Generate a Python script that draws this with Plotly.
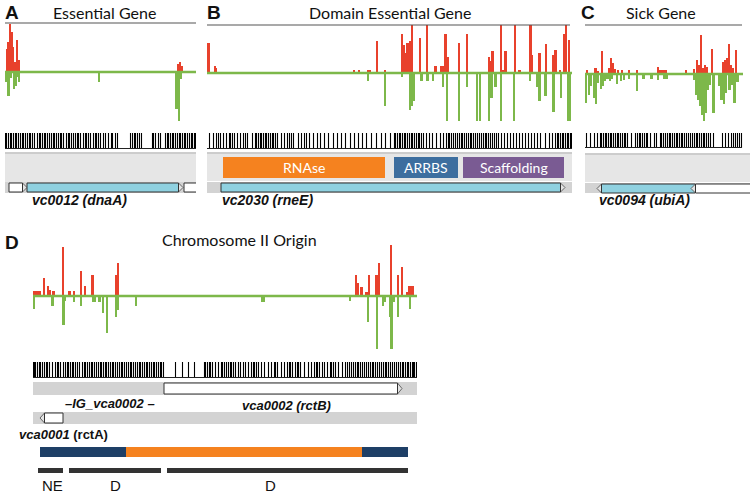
import math
import plotly.graph_objects as go

W, H = 750, 494

# ---------------- DATA ----------------
# Panel A  (essential gene dnaA)  positions in genome units, values = read counts (scaled)
A_red_pos = [7, 8.7, 10.2, 11.7, 13.5, 15.5, 17.5, 19.2, 178.5, 180.5, 182]
A_red_val = [23, 30, 48, 40, 25, 10, 32, 12, 8, 10, 6]
A_green_pos = [6.7, 8.7, 11, 14, 16, 17.7, 19.3, 99, 176.7, 179.3, 181.5]
A_green_val = [-10, -24, -6, -17, -14, -5, -10, -10, -37, -49, -7]
A_ta = [5, 6, 8, 10, 11, 13, 15, 16, 18, 20, 22, 23, 25, 27, 29, 30, 32, 34, 37, 39, 40, 42,
        44, 45, 47, 49, 51, 53, 54, 56, 58, 60, 61, 63, 66, 68, 69, 71, 73, 75, 77, 78, 80, 83,
        85, 86, 88, 90, 93, 95, 96, 98, 100, 103, 105, 108, 111, 112, 115, 117, 130, 132, 134,
        135, 137, 139, 141, 152, 153, 155, 158, 160, 165, 167, 168, 170, 172, 173, 175, 177, 179,
        180, 182, 184, 185, 187, 189, 191, 192, 194, 195]
A_gene_names = ["vc0011", "vc0012", "vc0013"]
A_gene_start = [9, 27, 184]
A_gene_end = [27, 183, 215]
A_gene_strand = ["+", "+", "+"]

# Panel B  (domain essential gene rneE)
B_red_pos = [207.3, 208.7, 215.3, 216.3, 354, 359.5, 368, 370.5, 377, 385.5,
             402, 404, 406, 407.7, 410.5, 412, 420, 427.3, 435.7, 441.5, 443.3, 445.7, 448,
             459.3, 467, 489, 491, 492.7, 501, 503.7, 505.8, 515, 519.7, 530.7, 532.3, 539.7,
             546, 553.7, 555.7, 560, 564.5, 566.5, 569]
B_red_val = [18, 30, 7, 5, 3, 3, 3, 3, 32, 3,
             39, 28, 20, 30, 32, 48, 35, 48, 7, 7, 7, 39, 16,
             30, 39, 16, 12, 22, 48, 3, 22, 48, 3, 48, 18, 20,
             29, 18, 23, 3, 39, 48, 33]
B_green_pos = [368.5, 385.5, 402, 410, 412, 414, 421.7, 427.7, 433, 443, 447.3, 459.3, 467.3,
               477, 480, 489.3, 491.7, 495.7, 501, 514, 530.5, 537.7, 539.7, 545.7, 553.7, 561,
               568.3, 569.7]
B_green_val = [-8, -33, -4, -37, -33, -28, -8, -8, -8, -14, -48, -48, -14,
               -48, -48, -48, -25, -14, -48, -48, -8, -14, -28, -23, -39, -25,
               -48, -48]
B_ta = [209, 213, 216, 218, 220, 223, 226, 229, 230, 232, 234, 237, 240, 243, 245, 247, 252,
        255, 256, 258, 260, 261, 263, 265, 266, 268, 270, 272, 273, 275, 277, 281, 284, 287, 289,
        291, 293, 298, 301, 304, 306, 309, 313, 317, 320, 324, 328, 333, 337, 341, 345, 350, 354,
        358, 362, 366, 371, 376, 381, 385, 390, 394, 395, 397, 399, 400, 402, 404, 405, 407, 409,
        411, 412, 414, 416, 418, 419, 421, 423, 426, 429, 432, 436, 440, 443, 446, 448, 449, 451,
        453, 455, 457, 459, 461, 462, 464, 466, 468, 470, 471, 473, 475, 477, 479, 481, 483, 485,
        486, 488, 490, 492, 494, 496, 498, 501, 504, 507, 510, 513, 516, 519, 522, 525, 528, 531,
        534, 537, 540, 545, 549, 552, 555, 557, 558, 560, 562, 563, 565, 567, 568, 570, 571]
B_gene_names = ["vc2030"]
B_gene_start = [221]
B_gene_end = [565]
B_gene_strand = ["+"]
B_domain_names = ["RNAse", "ARRBS", "Scaffolding"]
B_domain_start = [223, 394, 463]
B_domain_end = [385, 458, 564]

# Panel C  (sick gene ubiA)
C_red_pos = [587.3, 595.7, 597.7, 602.5, 609, 611, 613, 615, 618, 622, 629, 637, 658, 660, 662,
             664, 666, 686.5, 694, 697, 699, 701, 703, 705, 707, 712, 723, 725, 727, 729, 731,
             733, 736]
C_red_val = [4, 6, 3, 23, 6, 16, 11, 5, 4, 4, 4, 4, 7, 4, 4,
             4, 4, 4, 5, 14, 9, 39, 6, 9, 7, 25, 12, 14, 16, 30, 9,
             6, 24]
C_green_pos = [586, 589, 591, 594.3, 596.3, 598.3, 601, 603, 605, 607.7, 610.3, 612.3, 617, 621,
               624, 629, 637, 643.7, 651.7, 658.3, 664.3, 666.7, 694, 696, 698, 700, 702, 704,
               706, 708, 710, 713.7, 719, 721.7, 724.3, 726.3, 729.7, 731.7, 734.7, 737.7]
C_green_val = [-29, -21, -12, -24, -30, -9, -15, -12, -7, -5, -7, -5, -10, -7,
               -6, -5, -17, -5, -5, -6, -5, -5, -6, -21, -26, -32, -41, -47,
               -39, -16, -11, -39, -12, -26, -30, -19, -16, -11, -29, -8]
C_ta = [586, 590, 594, 597, 600, 601, 603, 605, 606, 608, 610, 611, 613, 615, 617, 618, 620,
        622, 624, 625, 627, 631, 635, 637, 639, 640, 642, 644, 646, 647, 650, 654, 656, 660, 661,
        663, 665, 667, 669, 670, 672, 674, 676, 677, 679, 681, 682, 684, 686, 688, 690, 692, 694,
        696, 697, 699, 701, 703, 704, 706, 708, 710, 713, 722, 725, 728, 731, 733, 735, 737, 739,
        741]
C_gene_names = ["vc0094", "vc0095"]
C_gene_start = [597, 691]
C_gene_end = [695, 790]
C_gene_strand = ["-", "-"]

# Panel D  (chromosome II origin)
D_red_pos = [34.5, 36.5, 38.5, 40.3, 44, 48.3, 50, 53.7, 63.3, 69.7, 74, 81.3, 85.3, 92.7, 116,
             118, 356, 358, 361.7, 366.7, 369, 376.7, 379, 391, 398.3, 402, 407.3, 409.5, 411.5,
             413.5]
D_red_val = [5, 5, 5, 5, 18, 10, 6, 5, 49, 5, 5, 25, 10, 21, 21,
             33, 21, 13, 9, 4, 21, 21, 33, 51, 21, 29, 4, 10, 10,
             10]
D_green_pos = [34.3, 52.7, 63.7, 65, 74.3, 81.3, 93, 95.5, 99.7, 103, 107.3, 116.3, 118, 136.3,
               262, 264.5, 350, 368.3, 377, 383, 385.3, 390.3, 391.7, 394, 398.3, 410]
D_green_val = [-13, -10, -29, -5, -6, -10, -6, -6, -6, -17, -37, -21, -14, -10,
               -6, -6, -5, -26, -53, -10, -6, -21, -53, -6, -21, -13]
D_ta = [33, 34, 35, 37, 39, 40, 42, 44, 46, 47, 49, 52, 55, 57, 58, 60, 63, 65, 67, 68, 70, 72,
        73, 75, 77, 79, 82, 84, 85, 87, 89, 91, 92, 94, 96, 98, 100, 101, 103, 105, 106, 108, 110,
        112, 113, 115, 117, 119, 121, 122, 124, 126, 128, 130, 131, 133, 135, 137, 139, 140, 142,
        144, 146, 147, 149, 151, 153, 154, 156, 158, 160, 161, 163, 175, 182, 188, 194, 204, 205,
        207, 209, 210, 212, 215, 218, 221, 222, 224, 226, 228, 230, 231, 233, 235, 238, 240, 243,
        245, 248, 251, 253, 254, 256, 258, 261, 264, 268, 271, 274, 275, 277, 281, 284, 287, 289,
        290, 292, 295, 297, 298, 300, 304, 308, 311, 314, 316, 317, 319, 322, 324, 327, 330, 331,
        333, 335, 338, 342, 345, 347, 349, 351, 353, 355, 357, 358, 360, 362, 364, 366, 368, 370,
        372, 373, 375, 377, 379, 381, 383, 385, 386, 388, 390, 392, 394, 396, 398, 400, 402, 403,
        405, 407, 408, 410, 412, 413, 414, 416]
D_gene1_names = ["vca0002"]
D_gene1_start = [164]
D_gene1_end = [402]
D_gene1_strand = ["+"]
D_gene2_names = ["vca0001"]
D_gene2_start = [40]
D_gene2_end = [63]
D_gene2_strand = ["-"]
D_region_kind = ["flank", "orf", "flank"]
D_region_start = [40, 126, 362]
D_region_end = [126, 362, 408]
D_ess_labels = ["NE", "D", "D"]
D_ess_start = [38, 69, 167]
D_ess_end = [63, 161, 408]
D_ess_label_at = [52, 115, 270]

HIGHLIGHT = {"vc0012", "vc2030", "vc0094"}

# ---------------- STYLE ----------------
RED = "#E8412C"
GREEN = "#7DB84A"
CYAN = "#8FD1E0"
BAND = "#D3D3D3"
LIGHT = "#E6E6E6"
DOMAIN_COL = {"RNAse": "#F5821F", "ARRBS": "#3D6E9F", "Scaffolding": "#7A5B93"}
REGION_COL = {"flank": "#1E3F66", "orf": "#F5821F"}
TITLE_FONT = "Lato, Open Sans, sans-serif"
ARIAL = "Liberation Sans, Arial, sans-serif"

fig = go.Figure()
shapes = []
annotations = []

panels = {
    # key: (xaxis, yaxis, x0px, x1px, ytop_px, ybot_px, baseline_px)
    "A": ("x", "y", 5, 196, 18, 206, 72),
    "B": ("x2", "y2", 207, 572, 18, 206, 73),
    "C": ("x3", "y3", 585, 750, 18, 206, 74),
    "D": ("x4", "y4", 33, 417, 240, 494, 296),
}


def ylev(p, px):
    return panels[p][6] - px


def add_bars(p, rpos, rval, gpos, gval, line_x0, line_x1):
    xa, ya = panels[p][0], panels[p][1]
    fig.add_trace(go.Bar(x=rpos, y=rval, width=[1.9] * len(rpos), marker=dict(color=RED, line=dict(width=0)),
                         xaxis=xa, yaxis=ya, showlegend=False, hoverinfo="skip"))
    fig.add_trace(go.Bar(x=gpos, y=gval, width=[1.9] * len(gpos), marker=dict(color=GREEN, line=dict(width=0)),
                         xaxis=xa, yaxis=ya, showlegend=False, hoverinfo="skip"))
    fig.add_trace(go.Scatter(x=[line_x0, line_x1], y=[0, 0], mode="lines", line=dict(color=GREEN, width=2.6),
                             xaxis=xa, yaxis=ya, showlegend=False, hoverinfo="skip"))


def add_topline(p, x0, x1, px):
    xa, ya = panels[p][0], panels[p][1]
    y = ylev(p, px)
    fig.add_trace(go.Scatter(x=[x0, x1], y=[y, y], mode="lines", line=dict(color="#555", width=1.2),
                             xaxis=xa, yaxis=ya, showlegend=False, hoverinfo="skip"))


def add_ticks(p, sites, x0, x1, top_px, bot_px):
    xa, ya = panels[p][0], panels[p][1]
    yt, yb = ylev(p, top_px), ylev(p, bot_px)
    X, Y = [], []
    for s in sites:
        sx = math.floor(s) + 0.5  # snap to pixel centre for crisp 1px ticks
        X += [sx, sx, None]
        Y += [yt, yb, None]
    fig.add_trace(go.Scatter(x=X, y=Y, mode="lines", line=dict(color="black", width=1.1),
                             xaxis=xa, yaxis=ya, showlegend=False, hoverinfo="skip"))
    fig.add_trace(go.Scatter(x=[x0, x1], y=[yb + 0.5, yb + 0.5], mode="lines", line=dict(color="#222", width=1),
                             xaxis=xa, yaxis=ya, showlegend=False, hoverinfo="skip"))


def rect(p, x0, x1, top_px, bot_px, fill, line=None, lw=0, layer="below"):
    xa, ya = panels[p][0], panels[p][1]
    shapes.append(dict(type="rect", xref=xa, yref=ya, x0=x0, x1=x1,
                       y0=ylev(p, bot_px), y1=ylev(p, top_px), fillcolor=fill,
                       line=dict(color=line or fill, width=lw), layer=layer))


def hline(p, x0, x1, px, color, width):
    xa, ya = panels[p][0], panels[p][1]
    shapes.append(dict(type="line", xref=xa, yref=ya, x0=x0, x1=x1, y0=ylev(p, px), y1=ylev(p, px),
                       line=dict(color=color, width=width), layer="below"))


def add_genes(p, names, starts, ends, strands, top_px, bot_px, tip=4.5):
    xa, ya = panels[p][0], panels[p][1]
    yt, yb = ylev(p, top_px), ylev(p, bot_px)
    ym = (yt + yb) / 2
    for n, s, e, st in zip(names, starts, ends, strands):
        fill = CYAN if n in HIGHLIGHT else "white"
        if st == "+":
            bx0, bx1 = s, e - tip
            tx, ty = [e - tip, e, e - tip, e - tip], [yt, ym, yb, yt]
        else:
            bx0, bx1 = s + tip, e
            tx, ty = [s + tip, s, s + tip, s + tip], [yt, ym, yb, yt]
        fig.add_trace(go.Scatter(x=tx, y=ty, mode="lines", fill="toself", fillcolor="#E4E4E4",
                                 line=dict(color="#666", width=1), xaxis=xa, yaxis=ya,
                                 showlegend=False, hoverinfo="skip"))
        fig.add_trace(go.Scatter(x=[bx0, bx1, bx1, bx0, bx0], y=[yt, yt, yb, yb, yt], mode="lines",
                                 fill="toself", fillcolor=fill, line=dict(color="#333", width=1),
                                 xaxis=xa, yaxis=ya, showlegend=False, hoverinfo="skip"))


# ---- Panel A ----
hline("A", 5, 196, 153, "#9A9A9A", 1)
rect("A", 5, 196, 154, 182, LIGHT)
rect("A", 5, 196, 182, 193, BAND)
add_topline("A", 5, 196, 23)
add_bars("A", A_red_pos, A_red_val, A_green_pos, A_green_val, 5, 196)
add_ticks("A", A_ta, 5, 196, 133, 149)
add_genes("A", A_gene_names, A_gene_start, A_gene_end, A_gene_strand, 183, 192)

# ---- Panel B ----
hline("B", 207, 572, 153, "#9A9A9A", 1)
rect("B", 207, 572, 154, 181, LIGHT)
rect("B", 207, 572, 182, 193, BAND)
for n, s, e in zip(B_domain_names, B_domain_start, B_domain_end):
    rect("B", s, e, 157, 178, DOMAIN_COL[n])
    annotations.append(dict(x=(s + e) / 2, y=ylev("B", 167.5), xref="x2", yref="y2", text=n,
                            showarrow=False, font=dict(family=TITLE_FONT, size=14, color="white")))
add_topline("B", 207, 570, 25)
add_bars("B", B_red_pos, B_red_val, B_green_pos, B_green_val, 207, 572)
add_ticks("B", B_ta, 207, 572, 133, 149)
add_genes("B", B_gene_names, B_gene_start, B_gene_end, B_gene_strand, 183, 192)

# ---- Panel C ----
hline("C", 585, 750, 154, "#9A9A9A", 1)
rect("C", 585, 750, 155, 182, LIGHT)
rect("C", 585, 750, 183, 193, BAND)
add_topline("C", 585, 742, 25)
add_bars("C", C_red_pos, C_red_val, C_green_pos, C_green_val, 585, 743)
add_ticks("C", C_ta, 585, 742, 133, 148)
add_genes("C", C_gene_names, C_gene_start, C_gene_end, C_gene_strand, 184, 193)

# ---- Panel D ----
rect("D", 33, 417, 382, 395, BAND)
rect("D", 33, 417, 412, 424, BAND)
add_bars("D", D_red_pos, D_red_val, D_green_pos, D_green_val, 33, 417)
add_ticks("D", D_ta, 33, 417, 362, 378)
add_genes("D", D_gene1_names, D_gene1_start, D_gene1_end, D_gene1_strand, 383, 394)
add_genes("D", D_gene2_names, D_gene2_start, D_gene2_end, D_gene2_strand, 413, 423)
for k, s, e in zip(D_region_kind, D_region_start, D_region_end):
    rect("D", s, e, 447, 457, REGION_COL[k], layer="above")
for lab, s, e, at in zip(D_ess_labels, D_ess_start, D_ess_end, D_ess_label_at):
    rect("D", s, e, 468, 473, "#333333", layer="above")
    annotations.append(dict(x=at, y=ylev("D", 485), xref="x4", yref="y4", text=lab,
                            showarrow=False, font=dict(family=ARIAL, size=15, color="#111")))

# ---- text ----
def ptext(x, y, text, size, family, anchor="center", color="#111"):
    annotations.append(dict(x=x / W, y=1 - y / H, xref="paper", yref="paper", text=text,
                            showarrow=False, xanchor=anchor, yanchor="middle",
                            font=dict(family=family, size=size, color=color)))

ptext(3, 12, "<b>A</b>", 19, ARIAL, "left")
ptext(205, 12, "<b>B</b>", 19, ARIAL, "left")
ptext(579, 12, "<b>C</b>", 19, ARIAL, "left")
ptext(3, 242, "<b>D</b>", 19, ARIAL, "left")
ptext(104, 12, "Essential Gene", 16, TITLE_FONT)
ptext(390, 12, "Domain Essential Gene", 16, TITLE_FONT)
ptext(661, 12, "Sick Gene", 16, TITLE_FONT)
ptext(239, 239, "Chromosome II Origin", 16, TITLE_FONT)
ptext(30, 200, "<b><i>vc0012 (dnaA)</i></b>", 14, ARIAL, "left")
ptext(220, 200, "<b><i>vc2030 (rneE)</i></b>", 14, ARIAL, "left")
ptext(597, 200, "<b><i>vc0094 (ubiA)</i></b>", 14, ARIAL, "left")
ptext(63, 403, "<b><i>\u2013IG_vca0002 \u2013</i></b>", 13, ARIAL, "left")
ptext(240, 405, "<b><i>vca0002 (rctB)</i></b>", 13, ARIAL, "left")
ptext(17, 434, "<b><i>vca0001</i> (rctA)</b>", 13, ARIAL, "left")

layout = dict(width=W, height=H, margin=dict(l=0, r=0, t=0, b=0), paper_bgcolor="white",
              plot_bgcolor="rgba(0,0,0,0)", barmode="overlay", bargap=0,
              shapes=shapes, annotations=annotations)
for key, (xa, ya, x0, x1, yt, yb, base) in panels.items():
    xname = "xaxis" + xa[1:]
    yname = "yaxis" + ya[1:]
    layout[xname] = dict(domain=[x0 / W, x1 / W], range=[x0, x1], visible=False, anchor=ya,
                         fixedrange=True)
    layout[yname] = dict(domain=[1 - yb / H, 1 - yt / H], range=[base - yb, base - yt], visible=False,
                         anchor=xa, fixedrange=True)
fig.update_layout(**layout)
fig.write_html("out.html", config={"displayModeBar": False},
               post_script="document.body.style.margin='0';document.body.style.overflow='hidden';")
